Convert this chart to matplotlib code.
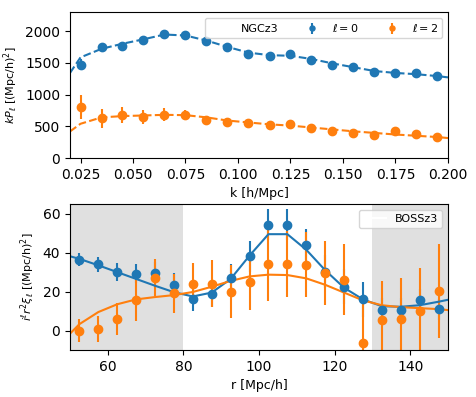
import numpy as np
import matplotlib.pyplot as plt

# Fourier space multipoles (NGCz3)
k = [0.025, 0.035, 0.045, 0.055, 0.065, 0.075, 0.085, 0.095, 0.105,
     0.115, 0.125, 0.135, 0.145, 0.155, 0.165, 0.175, 0.185, 0.195]
p0 = [1470, 1743, 1760, 1857, 1956, 1931, 1841, 1752, 1642,
      1601, 1637, 1543, 1465, 1428, 1359, 1334, 1334, 1287]
p0_err = [85, 50, 45, 40, 40, 35, 35, 30, 30, 30, 30, 30, 30, 28, 28, 28, 28, 28]
p2 = [810, 628, 680, 644, 680, 680, 601, 575, 550,
      523, 539, 471, 424, 398, 361, 429, 377, 334]
p2_err = [190, 150, 130, 110, 100, 80, 60, 50, 45, 40, 40, 38, 36, 35, 35, 35, 35, 35]

k_model = [0.02, 0.025, 0.035, 0.045, 0.055, 0.065, 0.075, 0.085, 0.095, 0.105,
           0.115, 0.125, 0.135, 0.145, 0.155, 0.165, 0.175, 0.185, 0.195, 0.2]
p0_model = [1340, 1585, 1720, 1800, 1870, 1945, 1930, 1850, 1750, 1660,
            1620, 1610, 1560, 1490, 1430, 1370, 1340, 1320, 1290, 1270]
p2_model = [418, 539, 640, 660, 670, 680, 675, 640, 590, 560,
            530, 510, 480, 450, 420, 395, 370, 350, 330, 314]

# configuration space multipoles (BOSSz3)
r = [52.5, 57.5, 62.5, 67.5, 72.5, 77.5, 82.5, 87.5, 92.5, 97.5,
     102.5, 107.5, 112.5, 117.5, 122.5, 127.5, 132.5, 137.5, 142.5, 147.5]
xi0 = [36.4, 34.0, 30.2, 29.2, 29.7, 23.4, 16.0, 18.7, 27.2, 38.1,
       54.4, 54.4, 43.9, 30.1, 22.6, 16.0, 10.7, 10.7, 15.8, 10.9]
xi0_err = [3.2, 4.0, 4.5, 5.0, 5.5, 6.0, 6.0, 6.5, 7.0, 8.0,
           8.0, 8.0, 8.5, 8.5, 9.0, 9.0, 6.0, 6.0, 5.7, 5.5]
xi2 = [0.0, 0.8, 5.9, 15.6, 27.2, 19.2, 24.1, 24.1, 20.0, 24.8,
       34.0, 34.3, 33.9, 29.4, 26.2, -6.6, 5.5, 6.0, 10.0, 20.4]
xi2_err = [6.0, 6.5, 8.0, 10.6, 9.3, 10.0, 10.6, 12.0, 13.5, 14.0,
           19.0, 17.0, 16.5, 16.5, 18.0, 22.0, 20.0, 21.0, 22.0, 24.0]

r_model = [47.5, 52.5, 57.5, 62.5, 67.5, 72.5, 77.5, 82.5, 87.5, 92.5, 97.5,
           102.5, 107.5, 112.5, 117.5, 122.5, 127.5, 132.5, 137.5, 142.5, 147.5, 152.5]
xi0_model = [39.5, 36.8, 33.5, 30.0, 26.5, 23.0, 19.7, 17.5, 19.5, 26.5, 38.5,
             49.5, 49.5, 41.5, 31.0, 22.0, 16.0, 12.5, 12.2, 13.0, 14.8, 16.8]
xi2_model = [-6.5, 3.3, 9.5, 13.5, 16.0, 17.2, 18.2, 19.8, 22.5, 25.5, 27.8,
             28.7, 28.5, 26.8, 23.5, 19.5, 15.5, 13.0, 12.0, 11.5, 11.0, 10.0]

c0, c2 = 'C0', 'C1'

fig = plt.figure(figsize=(4.76, 3.97), dpi=100)
ax1 = fig.add_axes([70 / 476, 1 - 158 / 397, 378 / 476, 146 / 397])
ax2 = fig.add_axes([70 / 476, 1 - 350 / 397, 378 / 476, 146 / 397])

# top panel
ax1.plot([], [], color='white', label='NGCz3')
ax1.errorbar(k, p0, yerr=p0_err, fmt='o', color=c0, ms=6, elinewidth=1.5, label=r'$\ell=0$')
ax1.errorbar(k, p2, yerr=p2_err, fmt='o', color=c2, ms=6, elinewidth=1.5, label=r'$\ell=2$')
ax1.plot(k_model, p0_model, '--', color=c0, lw=1.5)
ax1.plot(k_model, p2_model, '--', color=c2, lw=1.5)
ax1.set_xlim(0.02, 0.2)
ax1.set_ylim(0, 2300)
ax1.set_xticks([0.025, 0.05, 0.075, 0.1, 0.125, 0.15, 0.175, 0.2])
ax1.set_xlabel('k [h/Mpc]', fontsize=9)
ax1.set_ylabel(r'$kP_\ell$ [(Mpc/h)$^2$]', fontsize=8)
ax1.legend(ncol=3, loc='upper right', fontsize=8, markerscale=0.6)

# bottom panel
ax2.axvspan(50, 80, color='0.85', alpha=0.8, lw=0)
ax2.axvspan(130, 150, color='0.85', alpha=0.8, lw=0)
ax2.plot([], [], color='white', label='BOSSz3')
ax2.errorbar(r, xi0, yerr=xi0_err, fmt='o', color=c0, ms=6, elinewidth=1.5)
ax2.errorbar(r, xi2, yerr=xi2_err, fmt='o', color=c2, ms=6, elinewidth=1.5)
ax2.plot(r_model, xi0_model, '-', color=c0, lw=1.5)
ax2.plot(r_model, xi2_model, '-', color=c2, lw=1.5)
ax2.set_xlim(50, 150)
ax2.set_ylim(-10, 65)
ax2.set_xlabel('r [Mpc/h]', fontsize=9)
ax2.set_ylabel(r'$i^\ell r^2\xi_\ell$ [(Mpc/h)$^2$]', fontsize=8)
ax2.legend(loc='upper right', fontsize=8)

fig.savefig('out.png', dpi=100)
